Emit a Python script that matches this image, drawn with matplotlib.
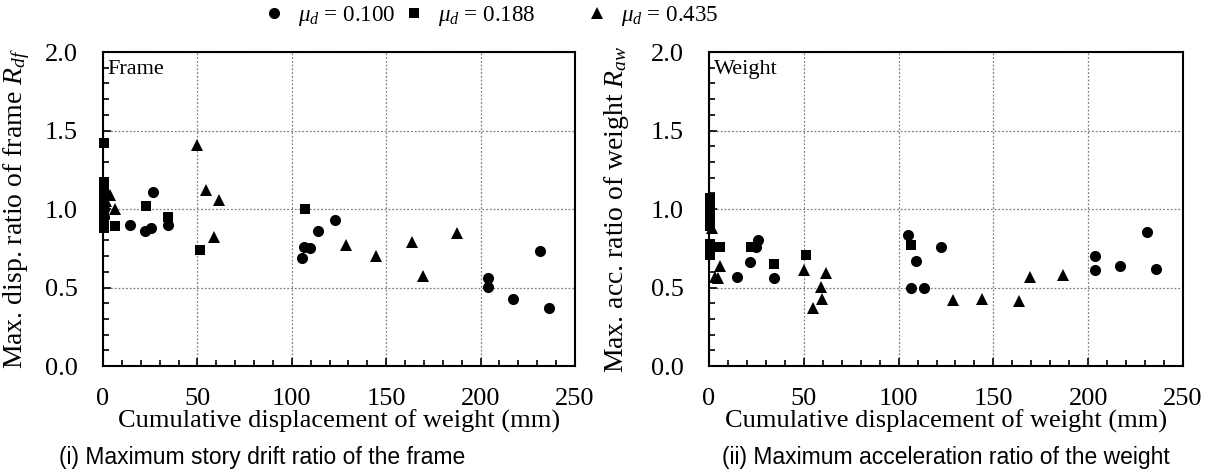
import numpy as np
import matplotlib
matplotlib.use('Agg')
import matplotlib.pyplot as plt
from matplotlib.lines import Line2D
from matplotlib.ticker import MultipleLocator, FormatStrFormatter

plt.rcParams['font.family'] = 'Liberation Serif'
plt.rcParams['mathtext.fontset'] = 'custom'
plt.rcParams['mathtext.rm'] = 'Liberation Serif'
plt.rcParams['mathtext.it'] = 'Liberation Serif:italic'

# (i) frame drift ratio
frame_x_100 = [0.5, 0.5, 14.3, 22.2, 25.2, 26.3, 34.6, 105.2, 106.5, 109.6, 114, 122.9, 203.9, 203.9, 217.3, 231.5, 236.4]
frame_y_100 = [0.95, 1.0, 0.90, 0.86, 0.88, 1.11, 0.90, 0.69, 0.76, 0.75, 0.86, 0.93, 0.56, 0.505, 0.425, 0.735, 0.367]
frame_x_188 = [0.5, 0.5, 0.5, 0.5, 0.5, 0.5, 0.5, 0.5, 6.4, 22.8, 34.6, 51.4, 107]
frame_y_188 = [1.42, 1.17, 1.12, 1.07, 1.02, 0.97, 0.92, 0.88, 0.89, 1.02, 0.95, 0.74, 1.0]
frame_x_435 = [1.5, 3.7, 6.4, 49.9, 54.5, 61.6, 58.8, 128.5, 144.4, 163.4, 169.6, 187.3]
frame_y_435 = [1.05, 1.09, 1.0, 1.41, 1.12, 1.06, 0.82, 0.77, 0.70, 0.79, 0.575, 0.845]

# (ii) weight acceleration ratio
weight_x_100 = [14.6, 21.6, 24.8, 26, 34.3, 104.8, 109.2, 106.4, 113.6, 122.5, 203.6, 203.6, 216.8, 230.8, 235.8]
weight_y_100 = [0.57, 0.66, 0.755, 0.80, 0.56, 0.834, 0.67, 0.50, 0.50, 0.76, 0.70, 0.61, 0.64, 0.855, 0.62]
weight_x_188 = [0.5, 0.5, 0.5, 0.5, 0.5, 0.5, 0.5, 0.5, 5.8, 22, 34.3, 51, 106.4]
weight_y_188 = [1.07, 1.02, 0.97, 0.93, 0.89, 0.78, 0.74, 0.71, 0.76, 0.76, 0.65, 0.71, 0.77]
weight_x_435 = [1.4, 3.2, 4.5, 5.8, 50.3, 55, 58.9, 59.4, 61.5, 128.5, 144, 163.3, 169.5, 186.7]
weight_y_435 = [0.88, 0.57, 0.56, 0.64, 0.61, 0.367, 0.505, 0.43, 0.59, 0.42, 0.425, 0.416, 0.565, 0.58]

mu_labels = ['0.100', '0.188', '0.435']
markers = ['o', 's', '^']
msizes = [8, 7.5, 9]

fig = plt.figure(figsize=(12.06, 4.74), dpi=100)
ax1 = fig.add_axes([0.0854, 0.2278, 0.3914, 0.6624])
ax2 = fig.add_axes([0.5879, 0.2278, 0.393, 0.6624])

panels = [
    (ax1, [(frame_x_100, frame_y_100), (frame_x_188, frame_y_188), (frame_x_435, frame_y_435)],
     'Max. disp. ratio of frame $R_{df}$', 'Frame', '(i) Maximum story drift ratio of the frame', -0.150, 0.337),
    (ax2, [(weight_x_100, weight_y_100), (weight_x_188, weight_y_188), (weight_x_435, weight_y_435)],
     'Max. acc. ratio of weight $R_{aw}$', 'Weight', '(ii) Maximum acceleration ratio of the weight', -0.165, 0.5),
]

for ax, series, ylab, tag, caption, ylx, capx in panels:
    for (xs, ys), m, ms in zip(series, markers, msizes):
        ax.plot(xs, ys, m, color='black', markersize=ms, markeredgewidth=0, clip_on=False)
    ax.set_xlim(0, 250)
    ax.set_ylim(0, 2.0)
    ax.xaxis.set_major_locator(MultipleLocator(50))
    ax.xaxis.set_minor_locator(MultipleLocator(10))
    ax.yaxis.set_major_locator(MultipleLocator(0.5))
    ax.yaxis.set_minor_locator(MultipleLocator(0.1))
    ax.yaxis.set_major_formatter(FormatStrFormatter('%.1f'))
    ax.grid(True, which='major', color='gray', linestyle=(0, (1.5, 1.5)), linewidth=0.9)
    ax.tick_params(which='both', direction='in', labelsize=19, width=1.2)
    ax.tick_params(which='major', length=6)
    ax.tick_params(which='minor', length=4)
    ax.tick_params(axis='x', pad=16)
    ax.tick_params(axis='y', pad=18)
    for s in ax.spines.values():
        s.set_linewidth(1.5)
    ax.set_xlabel('Cumulative displacement of weight (mm)', fontsize=19)
    ax.xaxis.set_label_coords(0.5, -0.14)
    ax.set_ylabel(ylab, fontsize=20)
    ax.yaxis.set_label_coords(ylx, 0.5)
    ax.text(0.01, 0.975, tag, transform=ax.transAxes, fontsize=16, va='top', ha='left')
    ax.text(capx, -0.255, caption, transform=ax.transAxes, fontsize=16.5, ha='center', va='top',
            family='Liberation Sans')

# legend entries placed one by one, as in the reference spacing
legend_x = [0.2177, 0.3338, 0.4855]
for m, ms, v, lx in zip(markers, msizes, mu_labels, legend_x):
    h = Line2D([], [], linestyle='none', marker=m, color='black', markersize=ms, markeredgewidth=0)
    fig.legend([h], [r'$\mu_d$ = ' + v], loc='center left', bbox_to_anchor=(lx, 0.966),
               frameon=False, fontsize=16.6, handlelength=1.0, handletextpad=0.55,
               borderpad=0, borderaxespad=0)

plt.savefig('out.png', dpi=100)
